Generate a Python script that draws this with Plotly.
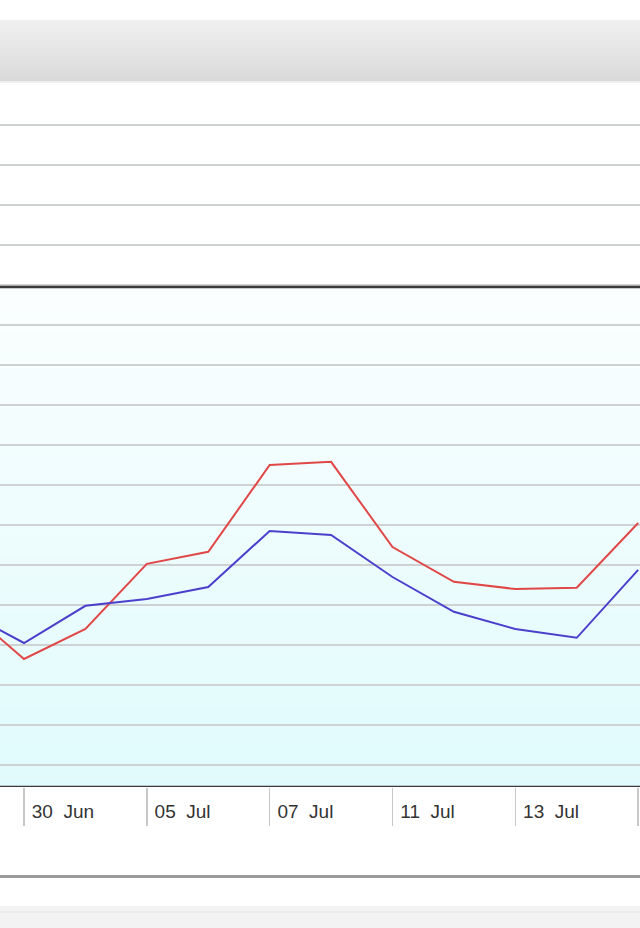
import plotly.graph_objects as go

# ---- data ----
point_index = [0, 1, 2, 3, 4, 5, 6, 7, 8, 9, 10, 11]
red_values = [3.98, 2.65, 3.40, 5.03, 5.33, 7.50, 7.58, 5.45, 4.58, 4.40, 4.43, 6.05]
blue_values = [3.88, 3.05, 3.98, 4.15, 4.45, 5.85, 5.75, 4.70, 3.83, 3.40, 3.18, 4.88]
tick_positions = [1, 3, 5, 7, 9, 11]
tick_labels = ["30  Jun", "05  Jul", "07  Jul", "11  Jul", "13  Jul", ""]

# ---- layout constants ----
W, H = 640, 928
PLOT_TOP_PX, PLOT_BOT_PX = 105, 787
Y_MIN, Y_MAX = -0.55, 16.5
BOX_TOP = 11.95


def paper_y(px):
    return (PLOT_BOT_PX - px) / (PLOT_BOT_PX - PLOT_TOP_PX)


def lerp(c1, c2, t):
    return "rgb(%d,%d,%d)" % tuple(round(a + (b - a) * t) for a, b in zip(c1, c2))


fig = go.Figure()
fig.add_trace(go.Scatter(x=point_index, y=red_values, mode="lines",
                         line=dict(color="#e04848", width=2), showlegend=False))
fig.add_trace(go.Scatter(x=point_index, y=blue_values, mode="lines",
                         line=dict(color="#4b40cc", width=2), showlegend=False))

shapes = []
# gradient background of bordered box (near-white at top, light cyan at bottom)
n = 80
top_c, bot_c = (251, 254, 254), (224, 251, 253)
step = (BOX_TOP - Y_MIN) / n
for k in range(n):
    y0 = Y_MIN + step * k
    y1 = min(BOX_TOP, y0 + step * 1.6)
    t = (k + 0.5) / n
    shapes.append(dict(type="rect", xref="paper", yref="y", x0=0, x1=1, y0=y0, y1=y1,
                       fillcolor=lerp(bot_c, top_c, t), line=dict(width=0), layer="below"))

# header bar gradient (drawn top to bottom so lower strips overlap upper ones)
hn = 30
h_top, h_bot = 20, 81
hstep = (h_bot - h_top) / hn
for k in range(hn):
    p0 = h_top + hstep * k
    p1 = h_top + hstep * (k + 1)
    t = (k + 0.5) / hn
    shapes.append(dict(type="rect", xref="paper", yref="paper", x0=0, x1=1,
                       y0=paper_y(p1), y1=paper_y(max(h_top, p0 - hstep * 0.6)),
                       fillcolor=lerp((241, 241, 241), (218, 218, 218), t),
                       line=dict(width=0), layer="below"))
shapes.append(dict(type="line", xref="paper", yref="paper", x0=0, x1=1,
                   y0=paper_y(82), y1=paper_y(82), line=dict(color="#efefef", width=2)))

# box border
shapes.append(dict(type="rect", xref="paper", yref="y", x0=-0.02, x1=1.02, y0=Y_MIN, y1=BOX_TOP,
                   line=dict(color="#3a3a3a", width=2.5), fillcolor="rgba(0,0,0,0)", layer="above"))

# bottom lines
shapes.append(dict(type="line", xref="paper", yref="paper", x0=0, x1=1,
                   y0=paper_y(876.5), y1=paper_y(876.5), line=dict(color="#9a9a9a", width=3)))
shapes.append(dict(type="rect", xref="paper", yref="paper", x0=0, x1=1,
                   y0=paper_y(928), y1=paper_y(906), fillcolor="#f3f3f3", line=dict(width=0)))
shapes.append(dict(type="line", xref="paper", yref="paper", x0=0, x1=1,
                   y0=paper_y(912), y1=paper_y(912), line=dict(color="#e8e8e8", width=1.5)))

fig.update_layout(
    width=W, height=H,
    margin=dict(l=0, r=0, t=PLOT_TOP_PX, b=H - PLOT_BOT_PX, pad=0),
    paper_bgcolor="white", plot_bgcolor="white",
    shapes=shapes,
    hovermode=False,
    xaxis=dict(range=[0.609, 11.03], tickmode="array", tickvals=tick_positions,
               ticktext=tick_labels, ticks="outside", ticklen=38, tickwidth=1.5,
               tickcolor="#c8c8c8", showgrid=False, zeroline=False, showline=False,
               ticklabelposition="outside right", ticklabelstandoff=7,
               ticklabelshift=7,
               tickfont=dict(family="Liberation Sans, Arial, sans-serif", size=19, color="#333333")),
    yaxis=dict(range=[Y_MIN, Y_MAX], tick0=0, dtick=1, showticklabels=False,
               showgrid=True, gridcolor="#cfd2d2", gridwidth=2, zeroline=False, ticks=""),
    font=dict(family="Liberation Sans, Arial, sans-serif"),
)

fig.write_html("out.html", config={"displayModeBar": False, "staticPlot": True},
               post_script="document.body.style.margin='0px';document.body.style.padding='0px';")
